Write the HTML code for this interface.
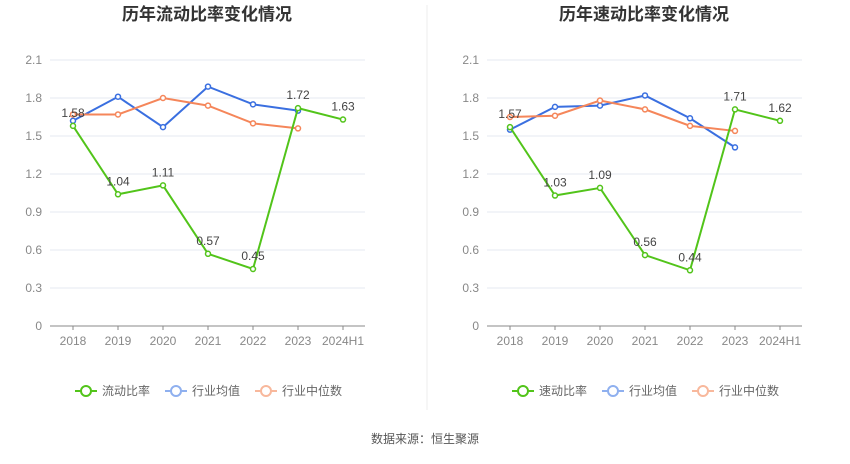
<!DOCTYPE html>
<html><head><meta charset="utf-8"><style>
body{margin:0;background:#fff;font-family:"Liberation Sans","Noto Sans CJK SC",sans-serif;}
svg text{font-family:"Liberation Sans","Noto Sans CJK SC",sans-serif;}
</style></head><body>
<svg id="c" width="850" height="459" xmlns="http://www.w3.org/2000/svg">
<line x1="427" y1="5" x2="427" y2="410" stroke="#eee"/>
<text x="425" y="443" text-anchor="middle" font-size="12" fill="#555">数据来源：恒生聚源</text>
</svg>
<script>
const categories=["2018","2019","2020","2021","2022","2023","2024H1"];
const yTicks=[0,0.3,0.6,0.9,1.2,1.5,1.8,2.1];
const leftMain=[1.58,1.04,1.11,0.57,0.45,1.72,1.63];
const leftMean=[1.62,1.81,1.57,1.89,1.75,1.70];
const leftMedian=[1.67,1.67,1.80,1.74,1.60,1.56];
const rightMain=[1.57,1.03,1.09,0.56,0.44,1.71,1.62];
const rightMean=[1.55,1.73,1.74,1.82,1.64,1.41];
const rightMedian=[1.65,1.66,1.78,1.71,1.58,1.54];
const NS="http://www.w3.org/2000/svg";
const svg=document.getElementById('c');
function mk(t,a,p){const e=document.createElementNS(NS,t);for(const k in a)e.setAttribute(k,a[k]);(p||svg).appendChild(e);return e;}
function chart(x0,title,mainName,main,mean,median,key){
  const g=mk('g',{});
  
  
  const left=x0+50,right=x0+365,top=60,bot=326;
  const xs=i=>left+23+i*45;
  const ys=v=>bot-(v/2.1)*(bot-top);
  const t=mk('text',{x:x0+207,y:20,'text-anchor':'middle','font-size':17,'font-weight':'bold',fill:'#333'},g);t.textContent=title;
  
  
  yTicks.forEach(v=>{
    const l=mk('line',{x1:left,x2:right,y1:ys(v),y2:ys(v),stroke:v===0?'#888':'#e6e9f0'},g);
    
    
    const tx=mk('text',{x:left-8,y:ys(v)+4,'text-anchor':'end','font-size':12,fill:'#888'},g);tx.textContent=String(v);
    
    
  });
  categories.forEach((c,i)=>{
    const tx=mk('text',{x:xs(i),y:345,'text-anchor':'middle','font-size':12,fill:'#888'},g);tx.textContent=c;
    
    
    mk('line',{x1:xs(i),x2:xs(i),y1:bot,y2:bot+4,stroke:'#888'},g);
  });
  function series(vals,color,name,labels){
    const pl=mk('polyline',{points:vals.map((v,i)=>xs(i)+','+ys(v)).join(' '),fill:'none',stroke:color,'stroke-width':2},g);
    
    
    vals.forEach((v,i)=>{
      const c=mk('circle',{cx:xs(i),cy:ys(v),r:2.5,fill:'#fff',stroke:color,'stroke-width':1.5},g);
      
      
      if(labels){const tx=mk('text',{x:xs(i),y:ys(v)-9,'text-anchor':'middle','font-size':12,fill:'#444'},g);tx.textContent=v.toFixed(2);
        
        }
    });
  }
  series(mean,'#3a6fe0','mean');
  series(median,'#f5865a','median');
  series(main,'#52c41a','main',true);
  const leg=[[mainName,'#52c41a',x0+75],['行业均值','#8fb0ef',x0+165],['行业中位数','#f8b89c',x0+255]];
  leg.forEach(([n,c,lx])=>{
    const lg=mk('g',{},g);
    
    
    mk('line',{x1:lx,x2:lx+22,y1:391,y2:391,stroke:c,'stroke-width':2},lg);
    mk('circle',{cx:lx+11,cy:391,r:5,fill:'#fff',stroke:c,'stroke-width':2},lg);
    const tx=mk('text',{x:lx+27,y:395,'font-size':12,fill:'#666'},lg);tx.textContent=n;
  });
}
chart(0,'历年流动比率变化情况','流动比率',leftMain,leftMean,leftMedian,'current-ratio');
chart(437,'历年速动比率变化情况','速动比率',rightMain,rightMean,rightMedian,'quick-ratio');
</script>
</body></html>
